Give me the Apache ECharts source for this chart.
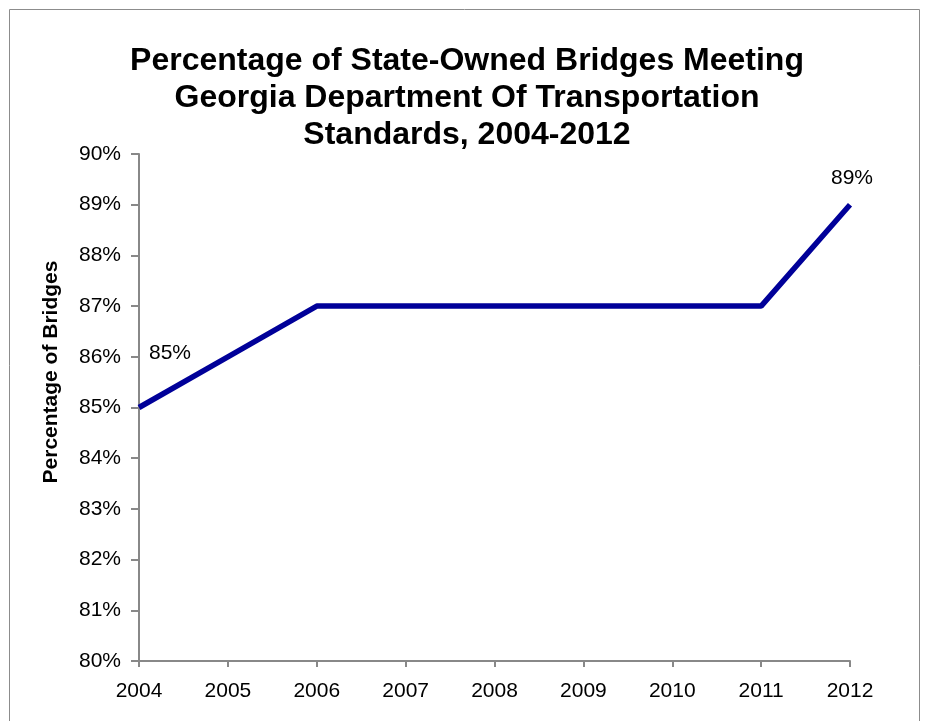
<!DOCTYPE html>
<html><head><meta charset="utf-8">
<script src="https://cdn.jsdelivr.net/npm/echarts@6/dist/echarts.min.js"></script>
<style>html,body{margin:0;padding:0;background:#fff}#c{width:925px;height:721px}</style>
</head><body><div id="c"></div>
<script>
var years = ['2004','2005','2006','2007','2008','2009','2010','2011','2012'];
var pct = [85, 86, 87, 87, 87, 87, 87, 87, 89];
var titleText = 'Percentage of State-Owned Bridges Meeting\nGeorgia Department Of Transportation\nStandards, 2004-2012';
var yName = 'Percentage of Bridges';

var chart = echarts.init(document.getElementById('c'));
var data = pct.map(function(v, i) {
  var d = { value: v };
  if (i === 0) d.label = { show: true, position: 'top', offset: [31, -38] };
  else if (i === 8) d.label = { show: true, position: 'top', offset: [2, -10] };
  return d;
});
chart.setOption({
  animation: false,
  backgroundColor: '#fff',
  graphic: [
    { type: 'rect', shape: { x: 9.5, y: 9.5, width: 910, height: 730 }, style: { fill: 'none', stroke: '#8c8c8c', lineWidth: 1 }, silent: true },
    { type: 'text', x: 51, y: 372, rotation: Math.PI / 2, style: { text: yName, fontFamily: 'Liberation Sans, Arial', fontWeight: 'bold', fontSize: 21, fill: '#000', align: 'center', verticalAlign: 'middle' }, silent: true }
  ],
  title: { text: titleText, left: 462, top: 38, textAlign: 'center',
    textStyle: { fontFamily: 'Liberation Sans, Arial', fontWeight: 'bold', fontSize: 32, lineHeight: 37, color: '#000' } },
  grid: { left: 139, right: 75, top: 154, bottom: 60 },
  xAxis: { type: 'category', data: years, boundaryGap: false,
    axisLine: { lineStyle: { color: '#888', width: 2 } },
    axisTick: { show: true, length: 6, lineStyle: { color: '#888', width: 2 } },
    axisLabel: { color: '#000', fontSize: 21, fontFamily: 'Liberation Sans, Arial', margin: 20 },
    splitLine: { show: false } },
  yAxis: { type: 'value', min: 80, max: 90, interval: 1,
    axisLine: { show: true, lineStyle: { color: '#888', width: 2 } },
    axisTick: { show: true, length: 8, lineStyle: { color: '#888', width: 2 } },
    axisLabel: { color: '#000', fontSize: 21, fontFamily: 'Liberation Sans, Arial', margin: 18, formatter: function(v){ return v + '%'; } },
    splitLine: { show: false } },
  series: [{ type: 'line', data: data, symbol: 'circle', symbolSize: 1, showSymbol: true,
    itemStyle: { color: 'rgba(0,0,0,0)' },
    lineStyle: { color: '#000099', width: 5.5 },
    label: { show: false, color: '#000', fontSize: 21, fontFamily: 'Liberation Sans, Arial', formatter: function(p){ return p.value + '%'; } } }]
});
</script></body></html>
